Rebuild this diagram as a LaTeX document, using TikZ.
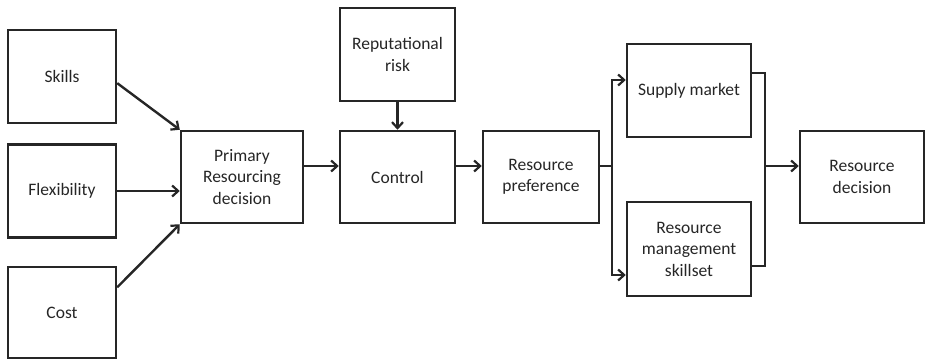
\documentclass[tikz,border=0pt]{standalone}
\usepackage{fontspec}
\setmainfont{Carlito}
\usetikzlibrary{arrows.meta,calc}
\begin{document}
\begin{tikzpicture}[x=1pt,y=1pt,
  box/.style={draw=black!85,line width=2.5pt,align=center,inner sep=2pt,
    font=\fontsize{17.5}{21.5}\selectfont,text=black!85},
  conn/.style={draw=black!85,line width=2.4pt},
  arr/.style={conn,-{Straight Barb[length=6pt,width=11pt,line width=2.2pt]}}]
\useasboundingbox (0,0) rectangle (926,-361);
\node[box,minimum width=108,minimum height=93] (skills) at (62,-76.5) {Skills};
\node[box,minimum width=108,minimum height=93] (flex) at (62,-191) {Flexibility};
\node[box,minimum width=108,minimum height=91] (cost) at (62,-312.5) {Cost};
\node[box,minimum width=122,minimum height=92] (prim) at (242,-177) {Primary\\Resourcing\\decision};
\node[box,minimum width=115,minimum height=93] (rep) at (397.5,-54.5) {Reputational\\risk};
\node[box,minimum width=115,minimum height=92] (ctrl) at (397.5,-177) {Control};
\node[box,minimum width=116,minimum height=92] (rp) at (541,-177) {Resource\\preference};
\node[box,minimum width=124,minimum height=93] (sm) at (689,-90.5) {Supply market};
\node[box,minimum width=124,minimum height=94] (rms) at (689,-249) {Resource\\management\\skillset};
\node[box,minimum width=124,minimum height=92] (rd) at (862,-177) {Resource\\decision};
\coordinate (ly) at (0,-166);
\coordinate (br) at (612,-166);
\coordinate (mg) at (765,-166);
\draw[arr] ($(skills.north east)!0.57!(skills.south east)$) -- (prim.north west);
\draw[arr] (flex.east) -- (prim.west |- flex.east);
\draw[arr] ($(cost.north east)!0.23!(cost.south east)$) -- (prim.south west);
\draw[arr] (rep.south) -- (ctrl.north);
\draw[arr] (prim.east |- ly) -- (ctrl.west |- ly);
\draw[arr] (ctrl.east |- ly) -- (rp.west |- ly);
\draw[conn] (rp.east |- ly) -- (br);
\draw[arr] (br) |- (sm.west |- 0,-80);
\draw[arr] (br) |- (rms.west |- 0,-275);
\draw[conn] (sm.east |- 0,-73) -| (mg);
\draw[conn] (rms.east |- 0,-266) -| (mg);
\draw[arr] (mg) -- (rd.west |- ly);
\end{tikzpicture}
\end{document}
